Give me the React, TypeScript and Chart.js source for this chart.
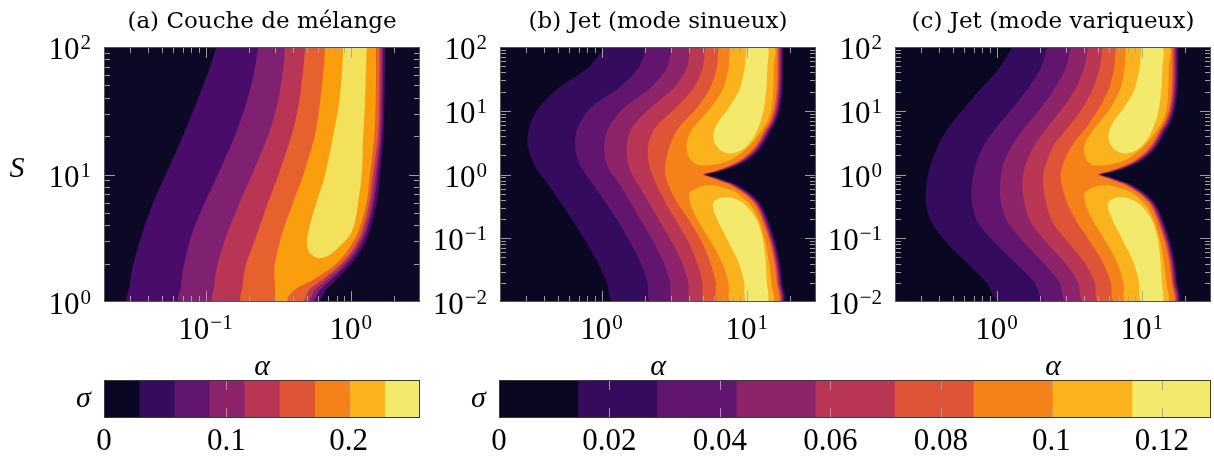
import React, { useEffect, useRef } from 'react';
import { Chart, registerables } from 'chart.js';

Chart.register(...registerables);

// ---------------- colours ----------------
const coloursA = ['#0c0826', '#4a0c6b', '#7f2170', '#b93556', '#e6612e', '#fa9e0d', '#f3e15c'];
const coloursBC = ['#0a0722', '#350b5e', '#62156e', '#8d2469', '#ba3655', '#df5437', '#f58219', '#fbb31d', '#f2e96d'];

// ---------------- texts ----------------
const titles = ['(a) Couche de mélange', '(b) Jet (mode sinueux)', '(c) Jet (mode variqueux)'];

// ---------------- axes ----------------
const alphaRangeA = [0.02, 3];
const sRangeA = [1, 100];
const alphaRangeBC = [0.2, 30];
const sRangeBC = [0.01, 100];
const alphaMajorA = [0.1, 1];
const sMajorA = [1, 10, 100];
const alphaMajorBC = [1, 10];
const sMajorBC = [0.01, 0.1, 1, 10, 100];

// ---------------- colour bars ----------------
const cbLevelsA = [0, 0.0287, 0.0574, 0.0861, 0.1148, 0.1435, 0.1722, 0.2009, 0.2296, 0.2583];
const cbLevelsBC = [0, 0.0143, 0.0286, 0.043, 0.0573, 0.0716, 0.0859, 0.1002, 0.1146, 0.1289];
const cbTicksA = [0, 0.1, 0.2];
const cbTickLabelsA = ['0', '0.1', '0.2'];
const cbTicksBC = [0, 0.02, 0.04, 0.06, 0.08, 0.1, 0.12];
const cbTickLabelsBC = ['0', '0.02', '0.04', '0.06', '0.08', '0.1', '0.12'];

// ---------------- panel (a): contour regions [alpha, S] ----------------
const contourA1 = [
  [0.119, 100], [0.107, 68.4], [0.0869, 37], [0.0703, 20.4], [0.0532, 9.9], [0.0438, 6.1], [0.0364, 3.35], [0.0313, 1.85], [0.0302, 1.36], [0.0294, 1],
  [0.586, 1], [0.676, 1.242], [0.792, 1.488], [1.021, 2.02], [1.215, 2.7], [1.358, 3.67], [1.517, 6.1], [1.592, 9.9], [1.683, 20.4], [1.71, 37], [1.724, 68.4], [1.724, 100],
];
const contourA2 = [
  [0.231, 100], [0.219, 68.4], [0.192, 37], [0.16, 20.4], [0.1214, 9.9], [0.0993, 6.1], [0.0803, 3.35], [0.0704, 1.85], [0.0679, 1.36], [0.0668, 1],
  [0.532, 1], [0.615, 1.242], [0.732, 1.488], [0.958, 2.02], [1.15, 2.7], [1.295, 3.67], [1.447, 6.1], [1.529, 9.9], [1.63, 20.4], [1.656, 37], [1.67, 68.4], [1.67, 100],
];
const contourA3 = [
  [0.353, 100], [0.3435, 68.4], [0.3144, 37], [0.2708, 20.4], [0.208, 9.9], [0.1729, 6.1], [0.14, 3.35], [0.1194, 1.85], [0.115, 1.36], [0.1133, 1],
  [0.501, 1], [0.567, 1.242], [0.687, 1.488], [0.914, 2.02], [1.105, 2.7], [1.255, 3.67], [1.402, 6.1], [1.482, 9.9], [1.592, 20.4], [1.617, 37], [1.63, 68.4], [1.63, 100],
];
const contourA4 = [
  [0.485, 100], [0.472, 68.4], [0.4405, 37], [0.392, 20.4], [0.317, 9.9], [0.2708, 6.1], [0.225, 3.35], [0.187, 1.85], [0.1805, 1.36], [0.1776, 1],
  [0.462, 1], [0.517, 1.242], [0.635, 1.488], [0.871, 2.02], [1.062, 2.7], [1.206, 3.67], [1.347, 6.1], [1.424, 9.9], [1.542, 20.4], [1.566, 37], [1.579, 68.4], [1.579, 100],
];
const contourA5 = [
  [0.666, 100], [0.652, 68.4], [0.615, 37], [0.567, 20.4], [0.472, 9.9], [0.4025, 6.1], [0.335, 3.35], [0.298, 1.85], [0.301, 1.36], [0.309, 1],
  [0.364, 1], [0.37, 1.094], [0.427, 1.288], [0.55, 1.488], [0.805, 2.02], [0.989, 2.7], [1.141, 3.67], [1.289, 6.1], [1.358, 9.9], [1.454, 20.4], [1.486, 37], [1.494, 68.4], [1.494, 100],
];
const contourA6 = [
  [0.889, 100], [0.875, 68.4], [0.834, 37], [0.759, 20.4], [0.666, 9.9], [0.583, 6.1], [0.53, 4.24], [0.506, 3.35], [0.5, 2.8], [0.524, 2.42], [0.595, 2.21],
  [0.698, 2.3], [0.792, 2.56], [0.885, 2.9], [0.989, 3.35], [1.071, 4.24], [1.128, 6.1], [1.191, 9.9], [1.221, 20.4], [1.255, 37], [1.275, 68.4], [1.289, 100],
];

// ---------------- panels (b) and (c): left edges of each level ----------------
const leftRowsS = [100, 46.3, 22.5, 10.9, 5.3, 2.9, 1.59, 1.04, 0.684, 0.375, 0.182, 0.0884, 0.0429, 0.0208, 0.01];
const sinL1 = [1.057, 0.799, 0.504, 0.367, 0.317, 0.31, 0.336, 0.377, 0.43, 0.518, 0.64, 0.782, 0.936, 1.086, 1.219];
const sinL2 = [2.047, 1.794, 1.306, 0.833, 0.682, 0.657, 0.693, 0.77, 0.879, 1.057, 1.306, 1.572, 1.842, 2.069, 2.216];
const sinL3 = [3.043, 2.811, 2.158, 1.414, 1.115, 1.041, 1.074, 1.175, 1.341, 1.572, 1.891, 2.275, 2.666, 2.964, 3.125];
const sinL4 = [4.07, 3.86, 3.125, 2.158, 1.614, 1.491, 1.515, 1.614, 1.794, 2.102, 2.529, 3.043, 3.566, 3.964, 4.179];
const sinL5 = [5.163, 4.975, 4.291, 3.208, 2.336, 2.102, 2.102, 2.216, 2.399, 2.738, 3.294, 3.964, 4.524, 4.949, 5.163];
const sinL6 = [6.378, 6.212, 5.589, 4.524, 3.383, 2.964, 2.767, 2.738, 2.886, 3.294, 4.07, 4.897, 5.589, 6.114, 6.378];

const varL1 = [1.286, 1.041, 0.786, 0.597, 0.464, 0.398, 0.358, 0.339, 0.329, 0.325, 0.356, 0.447, 0.613, 0.842, 1.069];
const varL2 = [2.24, 2.015, 1.648, 1.286, 0.987, 0.82, 0.73, 0.693, 0.675, 0.675, 0.738, 0.961, 1.32, 1.813, 2.181];
const varL3 = [3.242, 2.995, 2.516, 2.015, 1.547, 1.286, 1.127, 1.08, 1.057, 1.069, 1.188, 1.531, 2.069, 2.695, 3.075];
const varL4 = [4.268, 4.006, 3.51, 2.841, 2.216, 1.832, 1.614, 1.531, 1.507, 1.547, 1.719, 2.181, 2.917, 3.642, 4.006];
const varL5 = [5.357, 5.136, 4.62, 3.901, 3.075, 2.489, 2.216, 2.102, 2.102, 2.181, 2.424, 3.075, 4.006, 4.744, 5.082];
const varL6 = [6.619, 6.446, 5.955, 5.082, 4.113, 3.329, 2.917, 2.767, 2.811, 3.043, 3.566, 4.406, 5.357, 6.114, 6.515];

// ---------------- panels (b) and (c): right edges (notch at S = 1) ----------------
const rightRowsS = [100, 44.4, 21.5, 10.5, 6.46, 4.78, 3.33, 2.32, 1.62, 1.272, 1.128, 1.062, 1, 0.9416, 0.8866, 0.7862, 0.697, 0.4858, 0.3384, 0.1853, 0.0848, 0.0411, 0.02, 0.01];
const edgeR1 = [17.88, 17.88, 17.69, 16.96, 15.83, 14.63, 13.44, 12.03, 9.891, 7.88, 6.725, 5.955, 5.301, 5.708, 6.278, 7.357, 8.53, 10.82, 12.55, 14.17, 15.83, 16.96, 17.6, 17.88];
const edgeR2 = [17.51, 17.51, 17.33, 16.61, 15.49, 14.29, 13.13, 11.73, 9.63, 7.655, 6.532, 5.818, 5.227, 5.603, 6.141, 7.171, 8.315, 10.57, 12.29, 13.88, 15.52, 16.63, 17.25, 17.55];
const edgeR3 = [17.18, 17.18, 17.0, 16.3, 15.18, 13.99, 12.86, 11.46, 9.398, 7.455, 6.361, 5.696, 5.162, 5.509, 6.019, 7.006, 8.124, 10.35, 12.06, 13.61, 15.24, 16.33, 16.95, 17.26];
const edgeR4 = [16.89, 16.89, 16.71, 16.02, 14.91, 13.73, 12.61, 11.22, 9.196, 7.28, 6.212, 5.588, 5.103, 5.425, 5.911, 6.861, 7.956, 10.16, 11.85, 13.38, 15.0, 16.07, 16.68, 17.0];
const edgeR5 = [16.6, 16.6, 16.43, 15.75, 14.64, 13.47, 12.37, 10.99, 8.997, 7.109, 6.066, 5.483, 5.045, 5.343, 5.805, 6.719, 7.791, 9.963, 11.65, 13.16, 14.76, 15.81, 16.41, 16.74];
const edgeR6 = [16.26, 16.26, 16.09, 15.42, 14.32, 13.16, 12.09, 10.71, 8.759, 6.905, 5.892, 5.357, 4.975, 5.245, 5.678, 6.549, 7.594, 9.736, 11.41, 12.88, 14.47, 15.5, 16.09, 16.43];

// ---------------- panels (b) and (c): islands of the two top levels [alpha, S] ----------------
const sinUpper7 = [
  [7.675, 100], [15.34, 100], [15.34, 46.3], [15.26, 22.5], [14.86, 10.9], [13.87, 6.74], [12.48, 4.7], [11.11, 3.27], [9.736, 2.42], [8.091, 1.79], [6.549, 1.5],
  [5.301, 1.38], [4.524, 1.44], [4.07, 1.75], [3.86, 2.42], [3.901, 3.48], [4.179, 4.99], [4.769, 7.16], [5.739, 11.6], [6.905, 22.5], [7.514, 46.3],
];
const varUpper7 = [
  [7.756, 100], [15.34, 100], [15.34, 46.3], [15.26, 22.5], [14.86, 10.9], [13.87, 6.74], [12.48, 4.7], [11.11, 3.27], [9.736, 2.42], [8.091, 1.79], [6.549, 1.5],
  [5.301, 1.38], [4.572, 1.41], [4.179, 1.71], [4.006, 2.34], [4.135, 3.35], [4.645, 4.99], [5.273, 7.16], [6.179, 11.6], [7.165, 22.5], [7.634, 46.3],
];
const jetLower7 = [
  [4.07, 0.538], [4.769, 0.644], [5.739, 0.684], [6.905, 0.622], [8.308, 0.538], [9.482, 0.433], [10.65, 0.332], [11.71, 0.232], [12.68, 0.143], [13.58, 0.0783],
  [14.32, 0.0381], [14.86, 0.0185], [15.1, 0.01], [7.756, 0.01], [7.514, 0.0185], [7.015, 0.0337], [6.212, 0.0616], [5.301, 0.1125], [4.524, 0.2053], [4.113, 0.3323], [4.006, 0.449],
];
const jetUpper8 = [
  [9.997, 100], [13.87, 100], [13.87, 46.3], [13.66, 22.5], [13.16, 10.9], [12.35, 6.35], [11.23, 3.92], [9.891, 2.73], [8.53, 2.23], [7.357, 2.15], [6.48, 2.48],
  [5.955, 3.35], [5.955, 4.7], [6.378, 6.74], [7.357, 10.27], [8.899, 21.2], [9.684, 46.3],
];
const jetLower8 = [
  [6.05, 0.398], [6.905, 0.438], [8.091, 0.423], [9.482, 0.353], [10.82, 0.261], [12.03, 0.171], [12.88, 0.0997], [13.44, 0.0484], [13.73, 0.0208], [13.87, 0.01],
  [9.997, 0.01], [9.583, 0.0208], [8.759, 0.0429], [7.475, 0.0884], [6.549, 0.161], [5.955, 0.261], [5.83, 0.34],
];

// ---------------- helpers ----------------
const TICK_FONT = '31px "Liberation Serif", "DejaVu Serif", serif';
const SUP_FONT = '21px "Liberation Serif", "DejaVu Serif", serif';
const TITLE_FONT = '23px "DejaVu Serif", "Liberation Serif", serif';
const SYMBOL_FONT = 'italic 30px "Liberation Serif", "DejaVu Serif", serif';

type Pt = { x: number; y: number };
const pairsToPts = (pairs: number[][]): Pt[] => pairs.map(([a, s]) => ({ x: a, y: s }));
function band(leftS: number[], leftA: number[], rightS: number[], rightA: number[]): Pt[] {
  const pts: Pt[] = leftA.map((a, i) => ({ x: a, y: leftS[i] }));
  for (let i = rightA.length - 1; i >= 0; i--) pts.push({ x: rightA[i], y: rightS[i] });
  return pts;
}

function minorTicks(min: number, max: number): number[] {
  const out: number[] = [];
  for (let d = Math.floor(Math.log10(min)); d <= Math.ceil(Math.log10(max)); d++) {
    for (let k = 2; k <= 9; k++) {
      const v = k * Math.pow(10, d);
      if (v > min * 1.0001 && v < max * 0.9999) out.push(v);
    }
  }
  return out;
}

function drawPow(ctx: CanvasRenderingContext2D, value: number, x: number, y: number, align: 'center' | 'right') {
  const exp = Math.round(Math.log10(value));
  const base = '10';
  const sup = exp < 0 ? '\u2212' + Math.abs(exp) : String(exp);
  ctx.font = TICK_FONT;
  const wb = ctx.measureText(base).width;
  ctx.font = SUP_FONT;
  const ws = ctx.measureText(sup).width;
  const total = wb + 1 + ws;
  const sx = align === 'center' ? x - total / 2 : x - total;
  ctx.textAlign = 'left';
  ctx.textBaseline = 'alphabetic';
  ctx.font = TICK_FONT;
  ctx.fillText(base, sx, y);
  ctx.font = SUP_FONT;
  ctx.fillText(sup, sx + wb + 1, y - 10);
}

type Shape = { points: Pt[]; colour: string };
type PanelSpec = {
  key: string;
  left: number;
  width: number;
  padding: { left: number; right: number; top: number; bottom: number };
  xRange: number[];
  yRange: number[];
  xMajor: number[];
  yMajor: number[];
  title: string;
  bg: string;
  showS: boolean;
  shapes: Shape[];
};

function panelDecor(p: PanelSpec) {
  return {
    id: 'panelDecor' + p.key,
    beforeDraw(chart: any) {
      const { ctx, chartArea: ca } = chart;
      ctx.save();
      ctx.fillStyle = p.bg;
      ctx.fillRect(ca.left, ca.top, ca.right - ca.left, ca.bottom - ca.top);
      ctx.restore();
    },
    afterDraw(chart: any) {
      const { ctx, chartArea: ca } = chart;
      const xs = chart.scales.x;
      const ys = chart.scales.y;
      ctx.save();
      // tick marks (inward on all four sides)
      ctx.strokeStyle = 'rgba(165,165,165,0.95)';
      ctx.lineWidth = 1;
      const seg = (x1: number, y1: number, x2: number, y2: number) => {
        ctx.beginPath();
        ctx.moveTo(x1, y1);
        ctx.lineTo(x2, y2);
        ctx.stroke();
      };
      const xMinor = minorTicks(p.xRange[0], p.xRange[1]);
      const yMinor = minorTicks(p.yRange[0], p.yRange[1]);
      const drawX = (v: number, len: number) => {
        const px = Math.round(xs.getPixelForValue(v)) + 0.5;
        if (px < ca.left + 1 || px > ca.right - 1) return;
        seg(px, ca.top, px, ca.top + len);
        seg(px, ca.bottom, px, ca.bottom - len);
      };
      const drawY = (v: number, len: number) => {
        const py = Math.round(ys.getPixelForValue(v)) + 0.5;
        if (py < ca.top + 1 || py > ca.bottom - 1) return;
        seg(ca.left, py, ca.left + len, py);
        seg(ca.right, py, ca.right - len, py);
      };
      xMinor.forEach((v) => drawX(v, 6));
      p.xMajor.forEach((v) => drawX(v, 11));
      yMinor.forEach((v) => drawY(v, 6));
      p.yMajor.forEach((v) => drawY(v, 11));
      // frame
      ctx.strokeStyle = '#555';
      ctx.strokeRect(ca.left + 0.5, ca.top + 0.5, ca.right - ca.left - 1, ca.bottom - ca.top - 1);
      // tick labels
      ctx.fillStyle = '#000';
      p.xMajor.forEach((v) => drawPow(ctx, v, xs.getPixelForValue(v), ca.bottom + 37, 'center'));
      p.yMajor.forEach((v) => drawPow(ctx, v, ca.left - 13, ys.getPixelForValue(v) + 12, 'right'));
      // title
      const cx = (ca.left + ca.right) / 2;
      ctx.font = TITLE_FONT;
      ctx.textAlign = 'center';
      ctx.textBaseline = 'alphabetic';
      ctx.fillText(p.title, cx, ca.top - 19);
      // axis symbols
      ctx.font = SYMBOL_FONT;
      ctx.fillText('α', cx, ca.bottom + 73);
      if (p.showS) ctx.fillText('S', 17, 177);
      ctx.restore();
    },
  };
}

function panelConfig(p: PanelSpec): any {
  const datasets = p.shapes.map((s) => ({
    data: s.points,
    backgroundColor: s.colour,
    borderColor: s.colour,
    borderWidth: 0,
    pointRadius: 0,
    pointHoverRadius: 0,
    fill: 'shape',
    tension: 0.3,
  }));
  datasets.reverse(); // first element is painted last (on top)
  return {
    type: 'line',
    data: { datasets },
    options: {
      animation: false,
      responsive: false,
      devicePixelRatio: 1,
      events: [],
      layout: { padding: p.padding },
      plugins: { legend: { display: false }, tooltip: { enabled: false }, filler: { propagate: false } },
      scales: {
        x: { type: 'logarithmic', min: p.xRange[0], max: p.xRange[1], display: false },
        y: { type: 'logarithmic', min: p.yRange[0], max: p.yRange[1], display: false },
      },
    },
    plugins: [panelDecor(p)],
  };
}

function colourBarConfig(key: string, levels: number[], colours: string[], ticks: number[], labels: string[], padding: any): any {
  const datasets = colours.map((c, i) => ({
    data: [[levels[i], levels[i + 1]]],
    backgroundColor: c,
    borderWidth: 0,
    grouped: false,
    barPercentage: 1,
    categoryPercentage: 1,
  }));
  return {
    type: 'bar',
    data: { labels: ['σ'], datasets },
    options: {
      indexAxis: 'y',
      animation: false,
      responsive: false,
      devicePixelRatio: 1,
      events: [],
      layout: { padding },
      plugins: { legend: { display: false }, tooltip: { enabled: false } },
      scales: {
        x: { type: 'linear', min: levels[0], max: levels[levels.length - 1], display: false },
        y: { display: false },
      },
    },
    plugins: [
      {
        id: 'cbDecor' + key,
        afterDraw(chart: any) {
          const { ctx, chartArea: ca } = chart;
          const xs = chart.scales.x;
          ctx.save();
          ctx.strokeStyle = 'rgba(160,160,160,0.95)';
          ctx.lineWidth = 1;
          ticks.forEach((v) => {
            const px = Math.round(xs.getPixelForValue(v)) + 0.5;
            if (px < ca.left + 2 || px > ca.right - 2) return;
            ctx.beginPath();
            ctx.moveTo(px, ca.top);
            ctx.lineTo(px, ca.top + 10);
            ctx.moveTo(px, ca.bottom);
            ctx.lineTo(px, ca.bottom - 10);
            ctx.stroke();
          });
          ctx.strokeStyle = '#3a3a3a';
          ctx.strokeRect(ca.left + 0.5, ca.top + 0.5, ca.right - ca.left - 1, ca.bottom - ca.top - 1);
          ctx.fillStyle = '#000';
          ctx.textAlign = 'center';
          ctx.textBaseline = 'alphabetic';
          ctx.font = TICK_FONT;
          ticks.forEach((v, i) => ctx.fillText(labels[i], xs.getPixelForValue(v), ca.bottom + 32));
          ctx.font = SYMBOL_FONT;
          ctx.fillText('σ', ca.left - 20.5, ca.top + 27);
          ctx.restore();
        },
      },
    ],
  };
}

// ---------------- panels ----------------
const panelA: PanelSpec = {
  key: 'a',
  left: 0,
  width: 422,
  padding: { left: 104, right: 2, top: 47, bottom: 88 },
  xRange: alphaRangeA,
  yRange: sRangeA,
  xMajor: alphaMajorA,
  yMajor: sMajorA,
  title: titles[0],
  bg: coloursA[0],
  showS: true,
  shapes: [contourA1, contourA2, contourA3, contourA4, contourA5, contourA6].map((c, i) => ({ points: pairsToPts(c), colour: coloursA[i + 1] })),
};

function jetShapes(L: number[][], upper7: number[][]): Shape[] {
  const R = [edgeR1, edgeR2, edgeR3, edgeR4, edgeR5, edgeR6];
  const shapes: Shape[] = L.map((l, i) => ({ points: band(leftRowsS, l, rightRowsS, R[i]), colour: coloursBC[i + 1] }));
  shapes.push({ points: pairsToPts(upper7), colour: coloursBC[7] });
  shapes.push({ points: pairsToPts(jetLower7), colour: coloursBC[7] });
  shapes.push({ points: pairsToPts(jetUpper8), colour: coloursBC[8] });
  shapes.push({ points: pairsToPts(jetLower8), colour: coloursBC[8] });
  return shapes;
}

const panelB: PanelSpec = {
  key: 'b',
  left: 422,
  width: 396,
  padding: { left: 78, right: 2, top: 47, bottom: 88 },
  xRange: alphaRangeBC,
  yRange: sRangeBC,
  xMajor: alphaMajorBC,
  yMajor: sMajorBC,
  title: titles[1],
  bg: coloursBC[0],
  showS: false,
  shapes: jetShapes([sinL1, sinL2, sinL3, sinL4, sinL5, sinL6], sinUpper7),
};

const panelC: PanelSpec = {
  key: 'c',
  left: 818,
  width: 396,
  padding: { left: 77, right: 3, top: 47, bottom: 88 },
  xRange: alphaRangeBC,
  yRange: sRangeBC,
  xMajor: alphaMajorBC,
  yMajor: sMajorBC,
  title: titles[2],
  bg: coloursBC[0],
  showS: false,
  shapes: jetShapes([varL1, varL2, varL3, varL4, varL5, varL6], varUpper7),
};

function ChartBox(props: { left: number; top: number; width: number; height: number; make: () => any }) {
  const ref = useRef<HTMLCanvasElement | null>(null);
  useEffect(() => {
    if (!ref.current) return;
    const chart = new Chart(ref.current, props.make());
    return () => chart.destroy();
  }, []);
  return (
    <canvas
      ref={ref}
      width={props.width}
      height={props.height}
      style={{ position: 'absolute', left: props.left, top: props.top, width: props.width, height: props.height }}
    />
  );
}

export default function App() {
  return (
    <div style={{ position: 'absolute', left: 0, top: 0, width: 1214, height: 459, background: '#fff', overflow: 'hidden' }}>
      {[panelA, panelB, panelC].map((p) => (
        <ChartBox key={p.key} left={p.left} top={0} width={p.width} height={390} make={() => panelConfig(p)} />
      ))}
      <ChartBox
        left={0}
        top={370}
        width={440}
        height={89}
        make={() => colourBarConfig('A', cbLevelsA, coloursBC, cbTicksA, cbTickLabelsA, { left: 104, right: 20, top: 10, bottom: 41 })}
      />
      <ChartBox
        left={440}
        top={370}
        width={774}
        height={89}
        make={() => colourBarConfig('BC', cbLevelsBC, coloursBC, cbTicksBC, cbTickLabelsBC, { left: 59, right: 3, top: 10, bottom: 41 })}
      />
    </div>
  );
}
